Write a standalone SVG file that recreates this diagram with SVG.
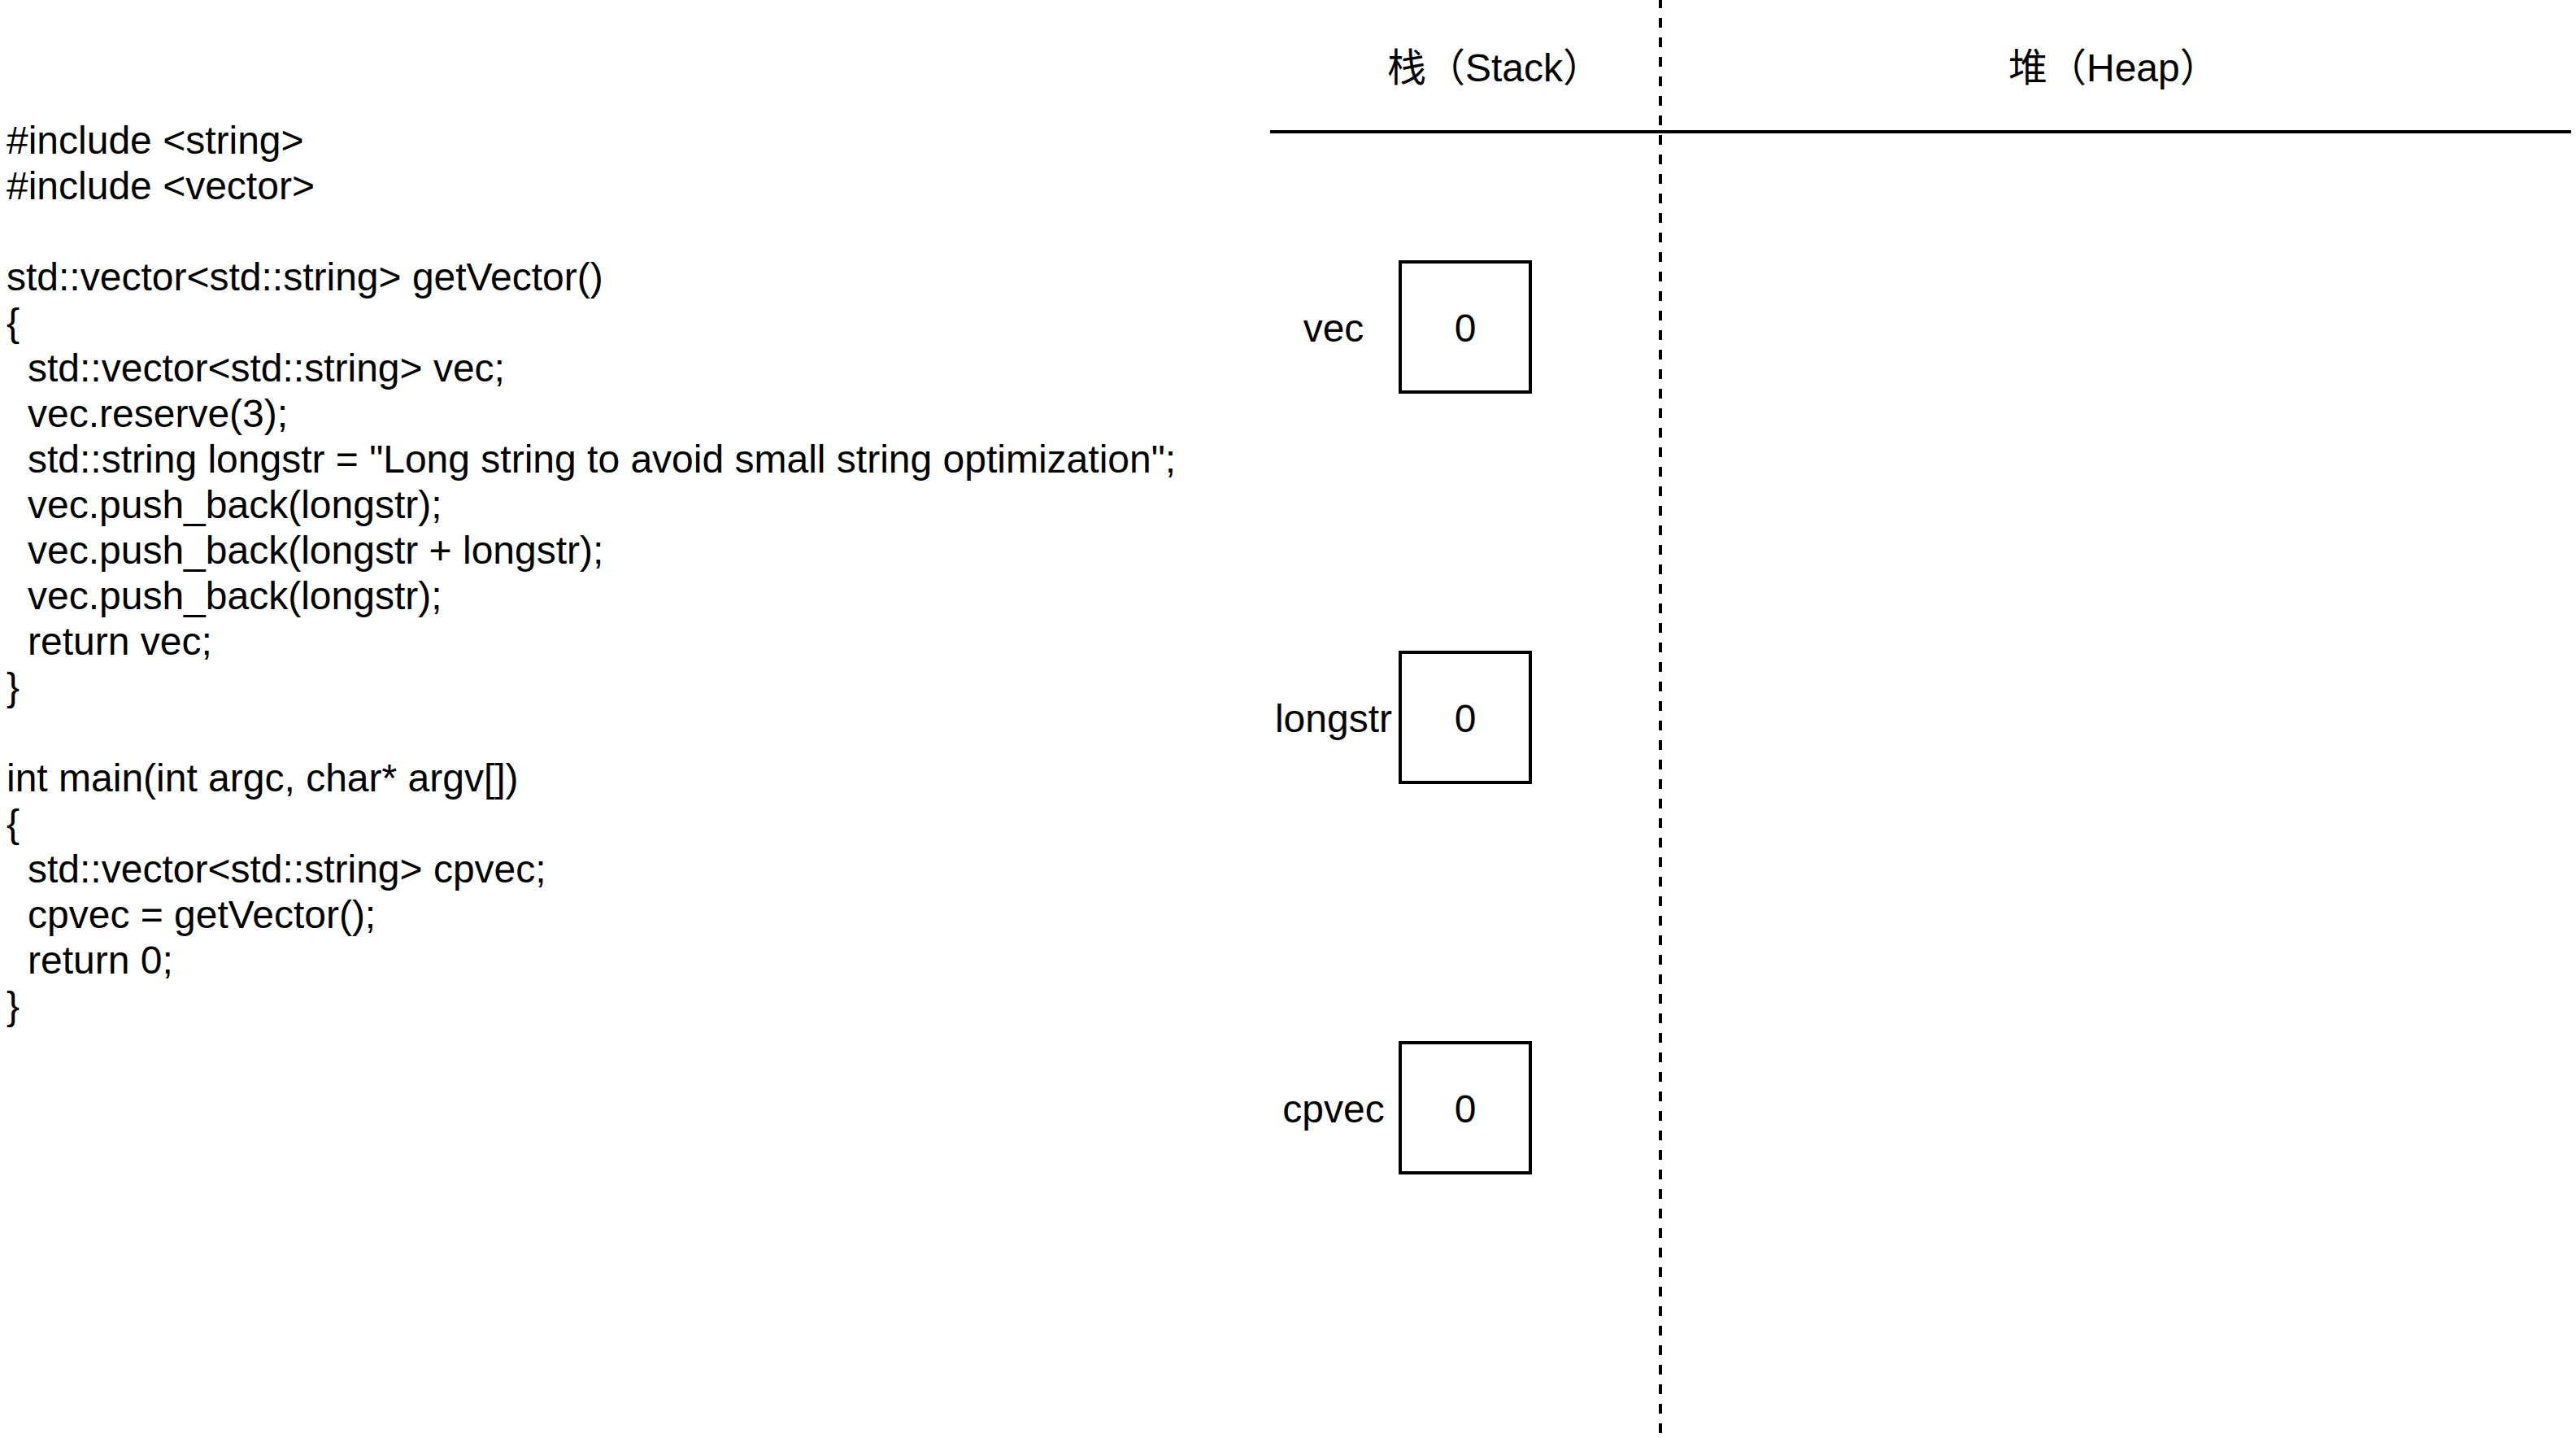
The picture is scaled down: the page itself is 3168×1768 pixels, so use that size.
<svg xmlns="http://www.w3.org/2000/svg" width="3168" height="1768" viewBox="0 0 3168 1768">
  <style>
    text { font-family: "Liberation Sans", Arial, "Noto Sans CJK SC", sans-serif; font-size: 48px; fill: #000; }
    .mid { text-anchor: middle; }
    .box { fill: #fff; stroke: #000; stroke-width: 4; }
    .rule { stroke: #000; stroke-width: 4; fill: none; }
    .dash { stroke: #000; stroke-width: 4; fill: none; stroke-dasharray: 12 12; }
  </style>
  <rect width="3168" height="1768" fill="#fff"/>

  <g id="code">
    <text x="8" y="189">#include &lt;string&gt;</text>
    <text x="8" y="245">#include &lt;vector&gt;</text>
    <text x="8" y="357">std::vector&lt;std::string&gt; getVector()</text>
    <text x="8" y="413">{</text>
    <text x="34" y="469">std::vector&lt;std::string&gt; vec;</text>
    <text x="34" y="525">vec.reserve(3);</text>
    <text x="34" y="581">std::string longstr = "Long string to avoid small string optimization";</text>
    <text x="34" y="637">vec.push_back(longstr);</text>
    <text x="34" y="693">vec.push_back(longstr + longstr);</text>
    <text x="34" y="749">vec.push_back(longstr);</text>
    <text x="34" y="805">return vec;</text>
    <text x="8" y="861">}</text>
    <text x="8" y="973">int main(int argc, char* argv[])</text>
    <text x="8" y="1029">{</text>
    <text x="34" y="1085">std::vector&lt;std::string&gt; cpvec;</text>
    <text x="34" y="1141">cpvec = getVector();</text>
    <text x="34" y="1197">return 0;</text>
    <text x="8" y="1253">}</text>
  </g>

  <g id="dividers">
    <line class="rule" x1="1562" y1="162" x2="3162" y2="162"/>
    <line class="dash" x1="2042" y1="-2" x2="2042" y2="1766"/>
  </g>

  <g id="stack-title">
    <text x="1706" y="100">栈（Stack）</text>
  </g>
  <g id="heap-title">
    <text x="2470" y="100">堆（Heap）</text>
  </g>

  <g id="vec">
    <rect class="box" x="1722" y="322" width="160" height="160"/>
    <text class="mid" x="1802" y="420">0</text>
    <text class="mid" x="1640" y="420">vec</text>
  </g>
  <g id="longstr">
    <rect class="box" x="1722" y="802" width="160" height="160"/>
    <text class="mid" x="1802" y="900">0</text>
    <text class="mid" x="1640" y="900">longstr</text>
  </g>
  <g id="cpvec">
    <rect class="box" x="1722" y="1282" width="160" height="160"/>
    <text class="mid" x="1802" y="1380">0</text>
    <text class="mid" x="1640" y="1380">cpvec</text>
  </g>
</svg>
